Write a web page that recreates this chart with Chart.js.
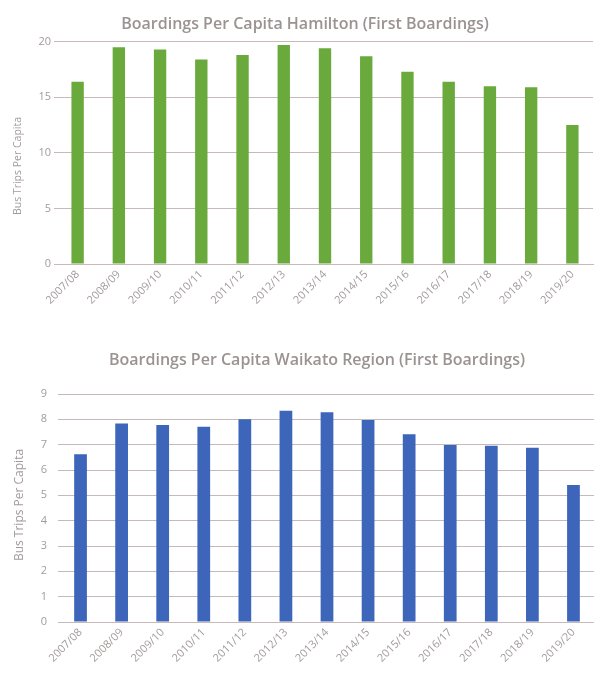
<!DOCTYPE html>
<html>
<head>
<meta charset="utf-8">
<script src="https://cdn.jsdelivr.net/npm/chart.js@4"></script>
<style>
  html, body { margin: 0; padding: 0; background: #ffffff; }
  body { width: 594px; height: 673px; position: relative; overflow: hidden; }
  .box { position: absolute; left: 0; width: 594px; }
  #b1 { top: 0; height: 315px; }
  #b2 { top: 330px; height: 343px; }
</style>
</head>
<body>
<div class="box" id="b1"><canvas id="c1"></canvas></div>
<div class="box" id="b2"><canvas id="c2"></canvas></div>
<script>
const categories = ["2007/08","2008/09","2009/10","2010/11","2011/12","2012/13","2013/14","2014/15","2015/16","2016/17","2017/18","2018/19","2019/20"];
const hamiltonValues = [16.4, 19.5, 19.3, 18.4, 18.8, 19.7, 19.4, 18.7, 17.3, 16.4, 16.0, 15.9, 12.5];
const waikatoValues = [6.62, 7.84, 7.78, 7.71, 8.0, 8.34, 8.28, 7.97, 7.41, 6.99, 6.96, 6.88, 5.41];
const hamiltonTicks = [0, 5, 10, 15, 20];
const waikatoTicks = [0, 1, 2, 3, 4, 5, 6, 7, 8, 9];
const hamiltonTitle = "Boardings Per Capita Hamilton (First Boardings)";
const waikatoTitle = "Boardings Per Capita Waikato Region (First Boardings)";
const yAxisTitle = "Bus Trips Per Capita";

const FONT = "'Open Sans', 'Noto Sans', sans-serif";
const TEXT = '#a39b9b';
const TITLE = '#9b9292';
const GRID = '#c6b9b9';

// draws the chart title and the rotated y-axis title at chosen centres
const titlesPlugin = {
  id: 'titles',
  afterDraw(chart, args, opts) {
    const ctx = chart.ctx;
    ctx.save();
    ctx.font = '600 16px ' + FONT;
    ctx.fillStyle = TITLE;
    ctx.textAlign = 'center';
    ctx.textBaseline = 'middle';
    ctx.fillText(opts.title, opts.tx, opts.ty);
    ctx.translate(opts.yx, opts.yy);
    ctx.rotate(-Math.PI / 2);
    ctx.font = opts.ysize + 'px ' + FONT;
    ctx.fillStyle = TEXT;
    ctx.fillText(opts.ytext, 0, 0);
    ctx.restore();
  }
};

function makeChart(id, H, values, ticks, title, color, cfg) {
  return new Chart(document.getElementById(id), {
    type: 'bar',
    data: {
      labels: categories,
      datasets: [{ data: values, backgroundColor: color, borderWidth: 0,
                   barPercentage: cfg.barPct, categoryPercentage: 1 }]
    },
    plugins: [titlesPlugin],
    options: {
      responsive: true, maintainAspectRatio: false, animation: false,
      devicePixelRatio: 1,
      layout: { padding: { left: 0, right: cfg.padRight, top: cfg.areaTop, bottom: 0 } },
      plugins: {
        legend: { display: false },
        tooltip: { enabled: false },
        title: { display: false },
        titles: { title: title, tx: cfg.tx, ty: cfg.ty,
                  ytext: yAxisTitle, yx: cfg.yTitleX, yy: cfg.yTitleY, ysize: cfg.yTitleSize }
      },
      scales: {
        x: {
          grid: { display: false, drawTicks: false },
          border: { display: true, color: GRID, width: 1 },
          ticks: { color: TEXT, font: { family: FONT, size: 11 }, minRotation: 45, maxRotation: 45, padding: 4, autoSkip: false },
          afterFit: (s) => { s.height = H - cfg.areaBottom; }
        },
        y: {
          min: ticks[0], max: ticks[ticks.length - 1],
          afterBuildTicks: (s) => { s.ticks = ticks.map(v => ({ value: v })); },
          grid: { color: GRID, lineWidth: 1, tickLength: cfg.tickLen, drawTicks: true },
          border: { display: false },
          ticks: { color: TEXT, font: { family: FONT, size: 11 }, padding: cfg.tickPad },
          afterFit: (s) => { s.width = cfg.areaLeft; }
        }
      }
    }
  });
}

makeChart('c1', 315, hamiltonValues, hamiltonTicks, hamiltonTitle, '#6aaa3c',
  { barPct: 0.30, padRight: 1, areaTop: 41.7, areaBottom: 264, tx: 305, ty: 24,
    tickLen: 3, tickPad: 3, areaLeft: 57, yTitleX: 18, yTitleY: 166, yTitleSize: 10.5 });

makeChart('c2', 343, waikatoValues, waikatoTicks, waikatoTitle, '#3d65b9',
  { barPct: 0.31, padRight: 0, areaTop: 64, areaBottom: 292, tx: 317, ty: 30,
    tickLen: 2, tickPad: 11, areaLeft: 60, yTitleX: 20, yTitleY: 175, yTitleSize: 12 });
</script>
</body>
</html>
